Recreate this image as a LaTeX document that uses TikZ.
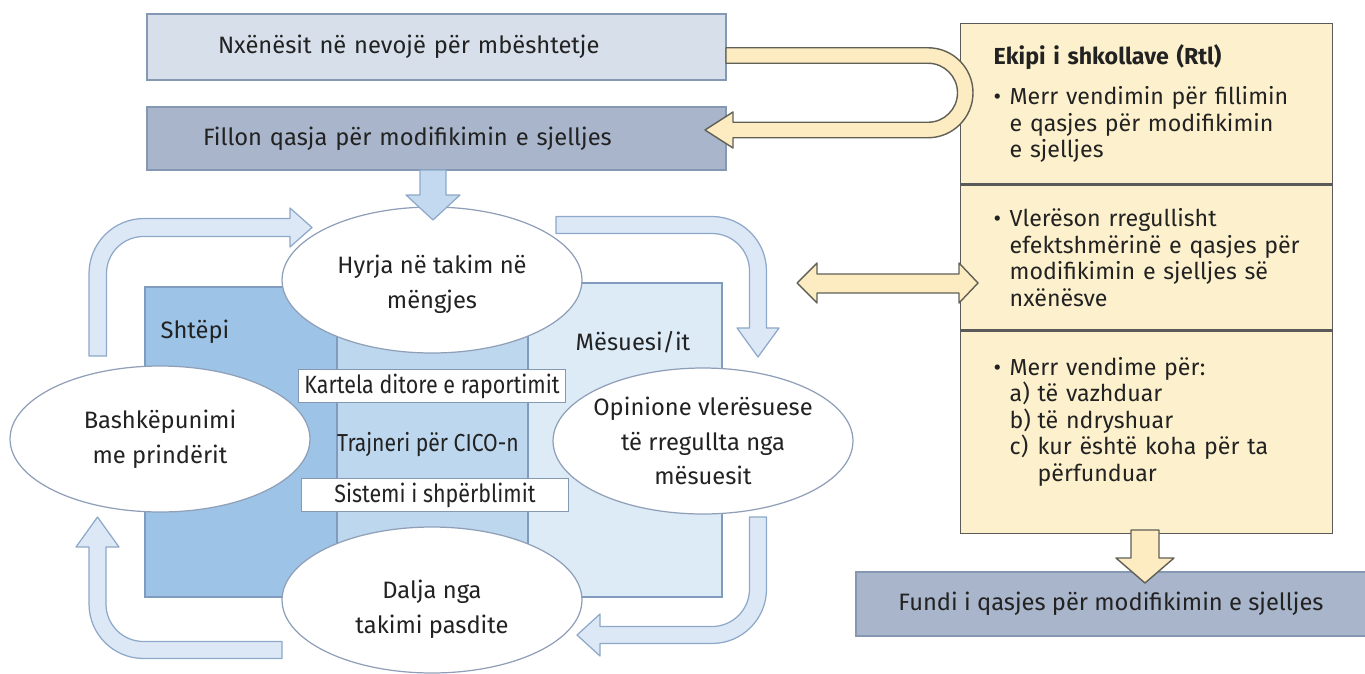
\documentclass[tikz,border=0pt]{standalone}
\usepackage{fontspec}
\setmainfont{Fira Sans}
\newfontfamily\condfont[FakeStretch=0.86]{Fira Sans}
\usetikzlibrary{shapes,positioning,calc}

\definecolor{boxlight}{HTML}{D6DFEA}
\definecolor{boxdark}{HTML}{A8B5CA}
\definecolor{boxline}{HTML}{8497B3}
\definecolor{homeblue}{HTML}{9DC3E6}
\definecolor{midblue}{HTML}{BDD7EE}
\definecolor{teachblue}{HTML}{DDEBF7}
\definecolor{colline}{HTML}{7F9CBE}
\definecolor{cyclefill}{HTML}{DCE8F5}
\definecolor{downfill}{HTML}{C3D9EF}
\definecolor{cycleline}{HTML}{8DA8C8}
\definecolor{teamfill}{HTML}{FDF1CD}
\definecolor{teamline}{HTML}{5A5A5A}
\definecolor{arrowyellow}{HTML}{FDEBC1}
\definecolor{arrowline}{HTML}{606056}
\definecolor{ovalline}{HTML}{8F9FB8}
\definecolor{txt}{HTML}{222222}

\newcommand{\setfs}[2]{\fontsize{#1}{#2}\selectfont}
\newcommand{\bul}{\makebox[0.32cm][l]{•}}
\newcommand{\ind}{\hspace*{0.32cm}}
\newcommand{\itm}[1]{\makebox[0.56cm][l]{#1}}

\tikzset{
    flowbox/.style={draw=boxline, line width=0.8pt, minimum height=1.32cm, inner ysep=0pt, font=\setfs{13.5}{16}},
    oval/.style={ellipse, draw=ovalline, fill=white, line width=0.7pt, minimum width=6cm, minimum height=2.92cm, inner sep=0pt},
    ovaltext/.style={align=center, inner sep=0pt, font=\setfs{13.5}{19.8}},
    tagbox/.style={draw=boxline, fill=white, line width=0.6pt, minimum width=5.34cm, minimum height=0.66cm, inner sep=0pt, font=\condfont\setfs{14.2}{15}},
    teambox/.style={draw=teamline, fill=teamfill, line width=0.8pt, minimum width=7.44cm, text width=6.12cm, inner xsep=0.66cm, align=left, font=\setfs{13.2}{15.1}},
    cyclearrow/.style={fill=cyclefill, draw=cycleline, line width=0.7pt, line join=round},
    teamarrow/.style={fill=arrowyellow, draw=arrowline, line width=0.8pt, line join=round}
}

\begin{document}
\begin{tikzpicture}[x=0.02cm, y=-0.02cm, every node/.append style={text=txt}]
    \useasboundingbox (0,0) rectangle (1365,673);

    % Columns home / card / teachers
    \filldraw[fill=homeblue, draw=colline, line width=0.6pt] (145,287) rectangle (337,597);
    \filldraw[fill=midblue, draw=colline, line width=0.6pt] (337,287) rectangle (528,597);
    \filldraw[fill=teachblue, draw=colline, line width=0.6pt] (528,283) rectangle (722,597);
    \node (home) at (195,332) {\setfs{13.5}{16}Shtëpi};
    \node (teacher) at (633,342) {\setfs{13.5}{16}Mësuesi/it};

    % Top boxes
    \node[flowbox, fill=boxlight, inner xsep=1.42cm, text width=8.74cm, align=left] (need) at (436.5,47) {Nxënësit në nevojë për mbështetje};
    \node[flowbox, fill=boxdark, inner xsep=1.12cm, text width=9.34cm, align=left, minimum height=1.26cm] (start) at (436.5,138.5) {Fillon qasja për modifikimin e sjelljes};

    % Cycle arrows
    \filldraw[cyclearrow] (89,356) -- (89,273.5) arc[start angle=180, end angle=90, radius=1.1cm]
        -- (290,218.5) -- (290,208) -- (312,227.5) -- (290,247) -- (290,236.5) -- (143.5,236.5)
        arc[start angle=90, end angle=180, radius=0.74cm] -- (106.5,356) -- cycle;
    \filldraw[cyclearrow] (556,216.5) -- (712,216.5) arc[start angle=90, end angle=0, radius=1.09cm]
        -- (766.5,328) -- (779,328) -- (758,357) -- (737,328) -- (749.5,328) -- (749.5,271)
        arc[start angle=0, end angle=90, radius=0.75cm] -- (556,233.5) -- cycle;
    \filldraw[cyclearrow] (749.5,517) -- (766.5,517) -- (766.5,589) arc[start angle=0, end angle=-90, radius=1.09cm]
        -- (600,643.5) -- (600,656) -- (577,635) -- (600,614) -- (600,626.5) -- (712,626.5)
        arc[start angle=-90, end angle=0, radius=0.75cm] -- cycle;
    \filldraw[cyclearrow] (282,641.5) -- (282,658.5) -- (143.5,658.5) arc[start angle=-90, end angle=-180, radius=1.09cm]
        -- (89,547) -- (76,547) -- (97.5,517) -- (119,547) -- (106,547) -- (106,604)
        arc[start angle=180, end angle=270, radius=0.75cm] -- cycle;

    % Ellipses of the daily cycle
    \node[oval] (entry) at (432,280) {};
    \node[ovaltext] at ($(entry)+(0,4)$) {Hyrja në takim në\\mëngjes};
    \node[oval] (feedback) at (703,441) {};
    \node[ovaltext] at (feedback) {Opinione vlerësuese\\të rregullta nga\\mësuesit};
    \node[oval] (exit) at (432,600) {};
    \node[ovaltext] at ($(exit)+(0,9)$) {Dalja nga\\takimi pasdite};
    \node[oval] (parents) at (160,439) {};
    \node[ovaltext] at (parents) {Bashkëpunimi\\me prindërit};

    % Card, coach, rewards
    \node[tagbox] (card) at (432,386) {Kartela ditore e raportimit};
    \node[font=\condfont\setfs{14}{15}] (coach) at (428,445) {Trajneri për CICO-n};
    \node[tagbox] (reward) at (435,495) {Sistemi i shpërblimit};

    % Arrow into the cycle
    \filldraw[fill=downfill, draw=cycleline, line width=0.7pt, line join=round]
        (420,170) -- (446,170) -- (446,195) -- (460,195) -- (433,220) -- (406,195) -- (420,195) -- cycle;

    % School team
    \node[teambox, minimum height=3.2cm, anchor=north west] (decide) at (960,23)
        {\textbf{Ekipi i shkollave (Rtl)}\\[0.28cm]
         \bul Merr vendimin për fillimin\\ \ind e qasjes për modifikimin\\ \ind e sjelljes};
    \node[teambox, minimum height=2.9cm, anchor=north] (review) at (decide.south)
        {\bul Vlerëson rregullisht\\ \ind\mbox{efektshmërinë e qasjes për}\\ \ind modifikimin e sjelljes së\\ \ind nxënësve};
    \node[teambox, minimum height=4.04cm, anchor=north] (result) at (review.south)
        {\bul Merr vendime për:\\ \ind\itm{a)}të vazhduar\\ \ind\itm{b)}të ndryshuar\\ \ind\itm{c)}kur është koha për ta\\ \ind\itm{}përfunduar\\ \mbox{}};

    % End box
    \node[flowbox, fill=boxdark, minimum width=10.2cm, minimum height=1.28cm] (finish) at (1111,604) {Fundi i qasjes për modifikimin e sjelljes};

    % Team arrows
    \filldraw[teamarrow] (726,47.75) -- (928,47.75) arc[start angle=90, end angle=-90, radius=0.9cm]
        -- (733,137.75) -- (733,148) -- (705,130) -- (733,112) -- (733,122.25) -- (928,122.25)
        arc[start angle=-90, end angle=90, radius=0.59cm] -- (726,63.25) -- cycle;
    \filldraw[teamarrow] (797,283) -- (817,263) -- (817,274) -- (959,274) -- (959,263) -- (978,283)
        -- (959,303) -- (959,293) -- (817,293) -- (817,303) -- cycle;
    \filldraw[teamarrow] (1131,530) -- (1159,530) -- (1159,558) -- (1174,558) -- (1145,583)
        -- (1116,558) -- (1131,558) -- cycle;
\end{tikzpicture}
\end{document}
